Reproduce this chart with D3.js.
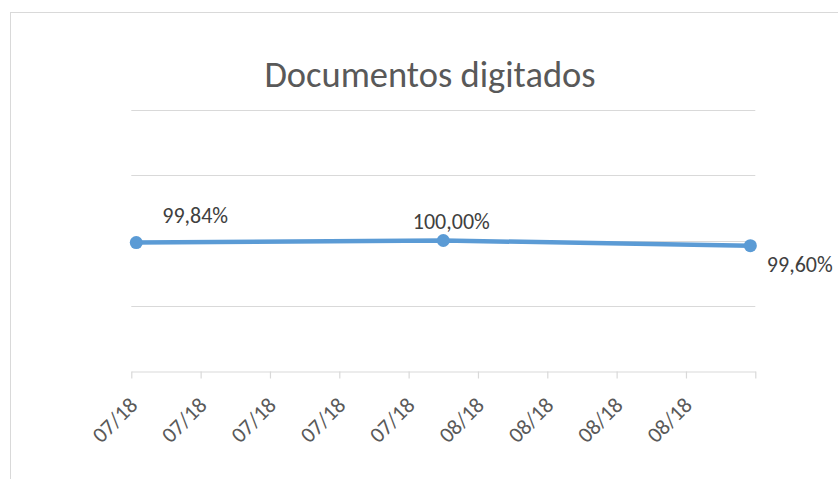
<!DOCTYPE html>
<html>
<head>
<meta charset="utf-8">
<script src="https://cdn.jsdelivr.net/npm/d3@7"></script>
<style>
  html, body { margin: 0; padding: 0; background: #fff; }
  svg { display: block; }
  text { font-family: Calibri, Carlito, Lato, sans-serif; }
</style>
</head>
<body>
<svg id="chart" width="838" height="479"></svg>
<script>
// ---- data ----
const chartTitle = "Documentos digitados";
const dates = ["2018-07-01", "2018-08-01", "2018-09-01"];
const values = [0.9984, 1.0000, 0.9960];
const yTicks = [0.90, 0.95, 1.00, 1.05, 1.10];
const axisStart = "2018-07-01";
const axisEnd = "2018-09-02";

// ---- layout ----
const W = 838, H = 479;
const plot = { left: 131.3, right: 755.3, top: 110, bottom: 371 };
const svg = d3.select("#chart");

const parse = d3.utcParse("%Y-%m-%d");
const pts = dates.map((d, i) => ({ date: parse(d), value: values[i] }));

const x = d3.scaleUtc()
  .domain([parse(axisStart), parse(axisEnd)])
  .range([plot.left, plot.right]);
const y = d3.scaleLinear()
  .domain([yTicks[0], yTicks[yTicks.length - 1]])
  .range([plot.bottom, plot.top]);

const locale = d3.formatLocale({ decimal: ",", thousands: ".", grouping: [3], currency: ["R$", ""], percent: "%" });
const pct = locale.format(".2%");
const mmyy = d3.utcFormat("%m/%y");

// chart area border (cropped at right & bottom)
svg.append("rect")
  .attr("x", 10.5).attr("y", 12.5)
  .attr("width", W + 20).attr("height", H + 20)
  .attr("fill", "#fff").attr("stroke", "#D9D9D9").attr("stroke-width", 1);

// title
svg.append("text")
  .attr("x", 430).attr("y", 87)
  .attr("text-anchor", "middle")
  .attr("font-size", 36.5)
  .attr("fill", "#595959")
  .text(chartTitle);

// gridlines
svg.append("g")
  .selectAll("line")
  .data(yTicks.slice(1))
  .join("line")
  .attr("x1", plot.left).attr("x2", plot.right)
  .attr("y1", d => Math.round(y(d)) + 0.5)
  .attr("y2", d => Math.round(y(d)) + 0.5)
  .attr("stroke", "#D9D9D9").attr("stroke-width", 1);

// x axis
const lastDate = pts[pts.length - 1].date;
const tickVals = d3.utcDay.range(parse(axisStart), d3.utcDay.offset(parse(axisEnd), 1), 7);
const xAxis = d3.axisBottom(x)
  .tickValues(tickVals)
  .tickSize(7)
  .tickSizeOuter(0)
  .tickFormat(d => d <= lastDate ? mmyy(d) : "");
const gx = svg.append("g")
  .attr("transform", `translate(0,${Math.round(y(yTicks[0])) + 0.5})`)
  .call(xAxis);
gx.select(".domain").attr("stroke", "#D9D9D9").attr("stroke-width", 1.2);
gx.selectAll(".tick line").attr("stroke", "#D9D9D9").attr("stroke-width", 1.2);
gx.selectAll(".tick text")
  .attr("font-family", "Calibri, Carlito, Lato, sans-serif")
  .attr("font-size", 22)
  .attr("fill", "#595959")
  .attr("text-anchor", "end")
  .attr("dy", null)
  .attr("y", null)
  .attr("transform", "translate(7,35) rotate(-45)");

// line
const mid = d => d3.utcHour.offset(d, 12);
const line = d3.line()
  .x(d => x(mid(d.date)))
  .y(d => y(d.value));
svg.append("path")
  .datum(pts)
  .attr("d", line)
  .attr("fill", "none")
  .attr("stroke", "#5B9BD5")
  .attr("stroke-width", 4.5)
  .attr("stroke-linejoin", "round")
  .attr("stroke-linecap", "round");

// markers
svg.append("g")
  .selectAll("circle")
  .data(pts)
  .join("circle")
  .attr("cx", d => x(mid(d.date)))
  .attr("cy", d => y(d.value))
  .attr("r", 6.5)
  .attr("fill", "#5B9BD5");

// data labels
const labelPlace = [
  { anchor: "start", dx: 26, dy: -20 },
  { anchor: "middle", dx: 8, dy: -11.5 },
  { anchor: "start", dx: 16.5, dy: 26 }
];
svg.append("g")
  .selectAll("text")
  .data(pts)
  .join("text")
  .attr("x", (d, i) => x(mid(d.date)) + labelPlace[i].dx)
  .attr("y", (d, i) => y(d.value) + labelPlace[i].dy)
  .attr("text-anchor", (d, i) => labelPlace[i].anchor)
  .attr("font-size", 22)
  .attr("fill", "#404040")
  .text(d => pct(d.value));
</script>
</body>
</html>
